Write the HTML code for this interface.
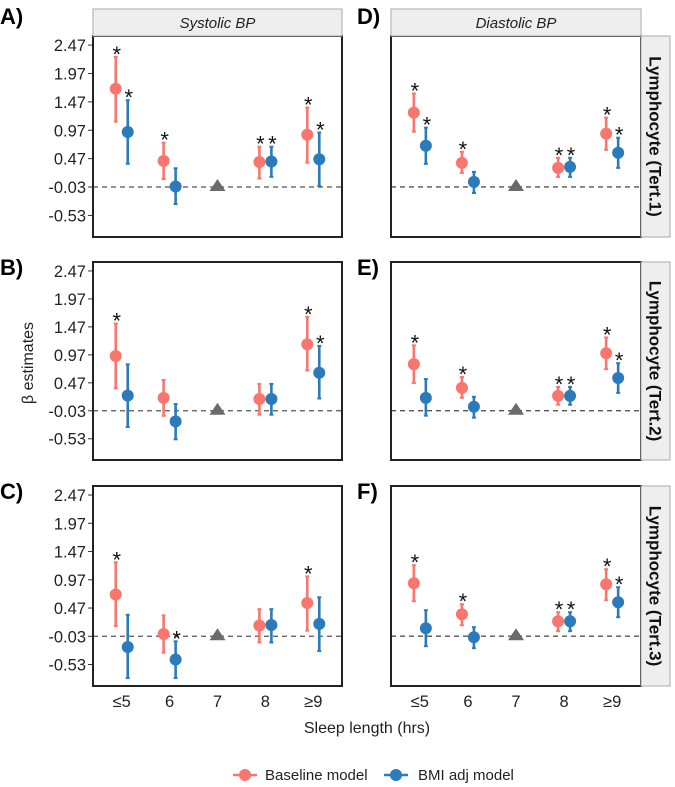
<!DOCTYPE html>
<html><head><meta charset="utf-8"><style>
body{margin:0;background:#fff;}
svg{display:block;font-family:"Liberation Sans",sans-serif;}
</style></head><body>
<svg id="chart" width="675" height="787" viewBox="0 0 675 787"></svg>
<script>
const categories = ["≤5","6","7","8","≥9"];
const leftTicks = [2.47,1.97,1.47,0.97,0.47,-0.03,-0.53];
const tickLabels = ["2.47","1.97","1.47","0.97","0.47","-0.03","-0.53"];
const rowStrips = ["Lymphocyte (Tert.1)","Lymphocyte (Tert.2)","Lymphocyte (Tert.3)"];
const colStrips = ["Systolic BP","Diastolic BP"];
const panelLetters = ["A)","B)","C)","D)","E)","F)"];
// values per panel: index 2 (7 hrs) is the reference
const A_base_est=[1.70,0.43,null,0.41,0.89], A_base_lo=[1.12,0.11,null,0.12,0.40], A_base_hi=[2.26,0.75,null,0.68,1.37];
const A_bmi_est=[0.94,-0.02,null,0.42,0.46], A_bmi_lo=[0.38,-0.33,null,0.15,-0.01], A_bmi_hi=[1.50,0.30,null,0.68,0.93];
const A_base_sig=[1,1,0,1,1], A_bmi_sig=[1,0,0,1,1];
const B_base_est=[0.95,0.20,null,0.18,1.16], B_base_lo=[0.37,-0.12,null,-0.10,0.69], B_base_hi=[1.53,0.52,null,0.45,1.65];
const B_bmi_est=[0.24,-0.22,null,0.18,0.65], B_bmi_lo=[-0.32,-0.54,null,-0.10,0.19], B_bmi_hi=[0.80,0.09,null,0.45,1.13];
const B_base_sig=[1,0,0,0,1], B_bmi_sig=[0,0,0,0,1];
const C_base_est=[0.71,0.01,null,0.16,0.56], C_base_lo=[0.15,-0.32,null,-0.14,0.07], C_base_hi=[1.28,0.34,null,0.45,1.03];
const C_bmi_est=[-0.22,-0.44,null,0.17,0.19], C_bmi_lo=[-0.77,-0.77,null,-0.14,-0.29], C_bmi_hi=[0.35,-0.12,null,0.45,0.66];
const C_base_sig=[1,0,0,0,1], C_bmi_sig=[0,1,0,0,0];
const D_base_est=[0.74,0.24,null,0.19,0.53], D_base_lo=[0.55,0.14,null,0.10,0.37], D_base_hi=[0.93,0.35,null,0.29,0.69];
const D_bmi_est=[0.41,0.05,null,0.20,0.34], D_bmi_lo=[0.23,-0.06,null,0.10,0.19], D_bmi_hi=[0.59,0.15,null,0.29,0.49];
const D_base_sig=[1,1,0,1,1], D_bmi_sig=[1,0,0,1,1];
const E_base_est=[0.47,0.23,null,0.15,0.58], E_base_lo=[0.28,0.13,null,0.06,0.42], E_base_hi=[0.66,0.34,null,0.24,0.74];
const E_bmi_est=[0.13,0.04,null,0.15,0.33], E_bmi_lo=[-0.05,-0.07,null,0.06,0.18], E_bmi_hi=[0.32,0.14,null,0.24,0.48];
const E_base_sig=[1,1,0,1,1], E_bmi_sig=[0,0,0,1,1];
const F_base_est=[0.53,0.22,null,0.15,0.52], F_base_lo=[0.35,0.11,null,0.05,0.36], F_base_hi=[0.71,0.32,null,0.24,0.67];
const F_bmi_est=[0.08,-0.01,null,0.15,0.34], F_bmi_lo=[-0.10,-0.12,null,0.05,0.19], F_bmi_hi=[0.26,0.09,null,0.24,0.49];
const F_base_sig=[1,1,0,1,1], F_bmi_sig=[0,0,0,1,1];

const NS="http://www.w3.org/2000/svg";
const svg=document.getElementById('chart');
function mk(tag,attrs,parent,text){const e=document.createElementNS(NS,tag);for(const k in attrs)e.setAttribute(k,attrs[k]);if(text!==undefined)e.textContent=text;(parent||svg).appendChild(e);return e;}
const RED="#F8766D", BLUE="#2B7BBA";
const rowsY=[[36,237],[262,460],[486,686]];
const colsX=[[93,342],[391,641]];
const panels=[
 {id:"a",col:0,row:0,d:[A_base_est,A_base_lo,A_base_hi,A_bmi_est,A_bmi_lo,A_bmi_hi,A_base_sig,A_bmi_sig]},
 {id:"b",col:0,row:1,d:[B_base_est,B_base_lo,B_base_hi,B_bmi_est,B_bmi_lo,B_bmi_hi,B_base_sig,B_bmi_sig]},
 {id:"c",col:0,row:2,d:[C_base_est,C_base_lo,C_base_hi,C_bmi_est,C_bmi_lo,C_bmi_hi,C_base_sig,C_bmi_sig]},
 {id:"d",col:1,row:0,d:[D_base_est,D_base_lo,D_base_hi,D_bmi_est,D_bmi_lo,D_bmi_hi,D_base_sig,D_bmi_sig]},
 {id:"e",col:1,row:1,d:[E_base_est,E_base_lo,E_base_hi,E_bmi_est,E_bmi_lo,E_bmi_hi,E_base_sig,E_bmi_sig]},
 {id:"f",col:1,row:2,d:[F_base_est,F_base_lo,F_base_hi,F_bmi_est,F_bmi_lo,F_bmi_hi,F_base_sig,F_bmi_sig]}
];
panels.forEach((p,pi)=>{
  const [x0,x1]=colsX[p.col],[y0,y1]=rowsY[p.row];
  const dom=p.col===0?[-0.91,2.63]:[-0.498,1.502];
  const ref=p.col===0?-0.03:0;
  const y=v=>y1-(v-dom[0])/(dom[1]-dom[0])*(y1-y0);
  const step=(x1-x0)/5.2;
  const x=i=>x0+step*(0.6+i);
  const g=mk('g',{});
  
  
  const lt=mk('text',{x:p.col===0?0:357,y:y0+(p.row===0?-12:13),'font-size':22,'font-weight':'bold'},g,panelLetters[pi]);
  
  
  if(p.col===0){
    leftTicks.forEach((t,i)=>{
      mk('line',{x1:x0-5,x2:x0,y1:y(t),y2:y(t),stroke:'#333','stroke-width':1},g);
      const tx=mk('text',{x:x0-7,y:y(t)+6,'font-size':16.5,'text-anchor':'end',fill:'#222'},g,tickLabels[i]);
      
      
    });
  }
  mk('line',{x1:x0,x2:x1,y1:y(ref),y2:y(ref),stroke:'#555','stroke-width':1.3,'stroke-dasharray':'5,4'},g);
  const [be,bl,bh,me,ml,mh,bs,ms]=p.d;
  categories.forEach((c,i)=>{
    if(be[i]===null){
      const cx=x(i),cy=y(ref);
      const tri=mk('polygon',{points:`${cx-8},${cy+4} ${cx+8},${cy+4} ${cx},${cy-8}`,fill:'#6b6b6b'},g);
      
      
      return;
    }
    [[be,bl,bh,bs,RED,-6,'baseline'],[me,ml,mh,ms,BLUE,6,'bmi']].forEach(s=>{
      const cx=x(i)+s[5];
      mk('line',{x1:cx,x2:cx,y1:y(s[1][i]),y2:y(s[2][i]),stroke:s[4],'stroke-width':2.6},g);
      mk('line',{x1:cx-2,x2:cx+2,y1:y(s[1][i]),y2:y(s[1][i]),stroke:s[4],'stroke-width':2},g);
      mk('line',{x1:cx-2,x2:cx+2,y1:y(s[2][i]),y2:y(s[2][i]),stroke:s[4],'stroke-width':2},g);
      const pt=mk('circle',{cx:cx,cy:y(s[0][i]),r:6,fill:s[4]},g);
      
      
      if(s[3][i]){
        const st=mk('text',{x:cx+1,y:y(s[2][i])+5,'font-size':22,'text-anchor':'middle',fill:'#111'},g,'*');
        
        
      }
    });
  });
  const box=mk('rect',{x:x0,y:y0,width:x1-x0,height:y1-y0,fill:'none',stroke:'#222','stroke-width':2},g);
  
  
  if(p.row===0){
    const sr=mk('rect',{x:x0,y:9,width:x1-x0,height:27,fill:'#eeeeee',stroke:'#aaa','stroke-width':1},g);
    
    
    const stx=mk('text',{x:(x0+x1)/2,y:28,'font-size':15,'font-style':'italic','text-anchor':'middle',fill:'#222'},g,colStrips[p.col]);
    
    
  }
  if(p.col===1){
    const rr=mk('rect',{x:x1,y:y0,width:29,height:y1-y0,fill:'#eeeeee',stroke:'#aaa','stroke-width':1},g);
    
    
    const cy=(y0+y1)/2;
    const rt=mk('text',{x:x1+14,y:cy,'font-size':17,'font-weight':'bold','text-anchor':'middle',fill:'#111',transform:`rotate(90 ${x1+14} ${cy})`,'dominant-baseline':'central'},g,rowStrips[p.row]);
    
    
  }
  if(p.row===2){
    categories.forEach((c,i)=>{
      const xl=mk('text',{x:x(i),y:707,'font-size':16.5,'text-anchor':'middle',fill:'#222'},g,c);
      
      
    });
  }
});
const yt=mk('text',{x:0,y:0,'font-size':16,'text-anchor':'middle',fill:'#222',transform:'translate(33 363) rotate(-90)'},svg,'β estimates');


const xt=mk('text',{x:367,y:733,'font-size':16,'text-anchor':'middle',fill:'#222'},svg,'Sleep length (hrs)');


[[245,265,RED,'Baseline model','legend-baseline'],[396,418,BLUE,'BMI adj model','legend-bmi']].forEach(l=>{
  const lg=mk('g',{});
  
  
  mk('line',{x1:l[0]-12,x2:l[0]+12,y1:775,y2:775,stroke:l[2],'stroke-width':2.5},lg);
  mk('circle',{cx:l[0],cy:775,r:6,fill:l[2]},lg);
  mk('text',{x:l[1],y:780,'font-size':15,fill:'#222'},lg,l[3]);
});
</script>
</body></html>
